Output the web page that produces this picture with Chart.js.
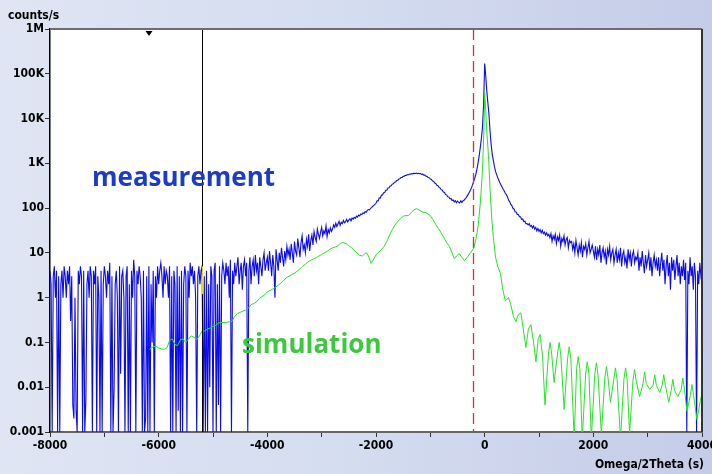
<!DOCTYPE html>
<html>
<head>
<meta charset="utf-8">
<title>Omega/2Theta scan</title>
<script src="https://cdn.jsdelivr.net/npm/chart.js@4"></script>
<style>
  html, body { margin: 0; padding: 0; }
  body {
    width: 712px; height: 474px; overflow: hidden;
    background: linear-gradient(to right, #dfe5f3 0%, #d4dcf0 50%, #c5cce8 100%);
  }
  canvas { display: block; }
</style>
</head>
<body>
<canvas id="scanChart" width="712" height="474"></canvas>
<script>

// measured counts/s, one reading every 20 s from -8000 s
// (zero counts are stored as 0.001 so they sit on the bottom of the log axis)
var measStart = -8000;
var measStep = 20;
var measCounts = [
  4, 2, 0.001, 3, 5, 1, 4, 0.001, 3, 0.001, 2, 4, 1, 5, 3, 1, 4, 2, 5, 0.3,
  3, 0.004, 0.002, 1, 0.003, 0.001, 4, 2, 5, 3, 0.001, 4, 0.001, 0.005, 2, 4, 1, 5, 3, 0.001,
  4, 2, 5, 0.001, 3, 1, 0.001, 4, 0.001, 2, 5, 3, 1, 4, 2, 6, 0.001, 3, 0.001, 0.01,
  2, 4, 1, 0.001, 5, 0.02, 3, 4, 1, 0.001, 3, 5, 0.001, 2, 0.001, 4, 1, 7, 3, 0.001,
  4, 2, 5, 3, 1, 0.001, 4, 0.001, 0.002, 3, 0.001, 5, 0.001, 2, 0.1, 4, 0.001, 3, 1, 5,
  2, 4, 6, 3, 1, 5, 2, 4, 3, 1, 5, 0.001, 3, 0.001, 4, 2, 0.001, 5, 0.003, 3,
  0.001, 4, 0.001, 2, 5, 3, 0.001, 4, 1, 6, 3, 5, 2, 4, 1, 0.001, 3, 5, 2, 4,
  5, 0.001, 3, 0.001, 4, 0.001, 2, 0.01, 5, 3, 0.001, 4, 6, 0.001, 2, 0.004, 5, 0.001, 3, 6,
  4, 2, 6, 3, 5, 1, 7, 0.001, 4, 2, 6, 3, 5, 8, 2, 4, 6, 1.5, 5, 7,
  3, 6, 0.001, 4, 8, 2, 5, 7, 3, 9, 4, 6, 2, 8, 5, 3, 7, 10, 4, 6,
  8, 4, 11, 6, 3, 9, 5, 1, 12, 7, 4, 10, 6, 13, 8, 5, 11, 7, 14, 9,
  12, 7, 16, 10, 6, 18, 11, 9, 21, 13, 8, 17, 24, 12, 15, 10, 20, 14, 26, 11,
  19, 25, 15, 30, 22, 18, 34, 26, 21, 29, 37, 24, 31, 27, 40, 23, 33, 28, 36, 30,
  34, 42, 37, 46, 39, 44, 51, 41, 48, 45, 53, 47, 50, 56, 49, 54, 58, 52, 60, 57,
  62, 59, 66, 63, 70, 67, 74, 72, 78, 76, 84, 81, 89, 93, 91, 99, 104, 110, 115, 121,
  128, 146, 145, 170, 168, 195, 196, 220, 224, 250, 252, 280, 284, 312, 316, 345, 348, 378, 384, 412,
  420, 446, 455, 482, 485, 512, 514, 540, 538, 562, 558, 578, 574, 592, 584, 602, 588, 606, 590, 600,
  584, 592, 566, 572, 544, 546, 514, 512, 482, 476, 444, 436, 404, 398, 364, 356, 324, 318, 290, 282,
  258, 252, 228, 224, 202, 198, 180, 178, 162, 164, 148, 152, 138, 146, 132, 144, 136, 130, 146, 134,
  145, 150, 160, 172, 188, 205, 228, 255, 290, 340, 400, 480, 580, 760, 1050, 1500, 2300, 3600, 6500, 20000,
  170000, 90000, 40000, 22000, 12000, 5000, 2600, 1600, 1150, 850, 660, 560, 480, 420, 370, 330, 295, 265, 240, 215,
  200, 178, 152, 140, 121, 114, 99, 96, 83, 82, 72, 72, 64, 64, 56, 57, 50, 51, 45, 45,
  42, 45, 39, 41, 36, 40, 34, 37, 31, 35, 30, 33, 28, 32, 27, 29, 25, 28, 24, 26,
  22, 27, 18, 24, 20, 26, 16, 23, 19, 25, 14, 21, 18, 24, 15, 20, 22, 13, 19, 17,
  18, 12, 16, 10, 19, 13, 9, 15, 11, 17, 8, 14, 12, 16, 9, 13, 18, 10, 12, 15,
  11, 8, 14, 7, 12, 9, 15, 6, 10, 13, 8, 11, 5.5, 12, 9, 14, 7, 10, 12, 6,
  9, 12, 6, 10, 7, 13, 5, 9, 11, 6, 8, 4.5, 12, 7, 10, 5, 9, 11, 6, 8,
  7, 10, 4, 8, 5, 11, 6, 3.5, 9, 5, 7, 10, 4, 8, 3, 6, 9, 5, 7, 4,
  8, 3, 6, 10, 4, 7, 2, 5, 9, 3, 6, 1.5, 8, 4, 7, 2.5, 5, 9, 3, 6,
  2, 5, 3, 7, 2.5, 6, 0.001, 4, 2, 8, 3, 5, 1.5, 6, 3, 0.001, 4, 2, 6, 3,
  4
];

// simulated curve
var simAngle = [
  -6170, -6100, -6050, -6000, -5950, -5900, -5850, -5800, -5750, -5700,
  -5650, -5600, -5550, -5500, -5450, -5400, -5350, -5300, -5250, -5200,
  -5150, -5100, -5050, -5000, -4950, -4900, -4850, -4800, -4750, -4700,
  -4650, -4600, -4550, -4500, -4450, -4400, -4350, -4300, -4250, -4200,
  -4150, -4100, -4050, -4000, -3950, -3900, -3850, -3800, -3750, -3700,
  -3650, -3600, -3550, -3500, -3450, -3400, -3350, -3300, -3250, -3200,
  -3150, -3100, -3050, -3000, -2950, -2900, -2850, -2800, -2750, -2700,
  -2650, -2600, -2550, -2500, -2450, -2400, -2350, -2300, -2250, -2200,
  -2170, -2130, -2090, -2050, -2000, -1950, -1900, -1850, -1800, -1750,
  -1700, -1650, -1600, -1550, -1500, -1450, -1400, -1350, -1300, -1250,
  -1200, -1150, -1100, -1050, -1000, -950, -900, -850, -800, -750,
  -700, -650, -600, -560, -520, -470, -420, -370, -320, -260,
  -200, -160, -120, -80, -40, -15, 0, 20, 40, 70,
  100, 130, 160, 200, 240, 290, 330, 380, 440, 480,
  530, 574, 620, 667, 710, 759, 805, 852, 900, 944,
  985, 1019, 1065, 1111, 1174, 1204, 1234, 1278, 1340, 1370,
  1400, 1463, 1526, 1556, 1586, 1648, 1692, 1722, 1752, 1796,
  1859, 1889, 1919, 1963, 2026, 2056, 2086, 2148, 2211, 2241,
  2271, 2315, 2377, 2407, 2437, 2500, 2563, 2593, 2623, 2667,
  2729, 2759, 2789, 2852, 2914, 2944, 2974, 3037, 3100, 3130,
  3160, 3222, 3266, 3296, 3326, 3389, 3433, 3463, 3493, 3556,
  3618, 3648, 3678, 3722, 3785, 3815, 3845, 3907, 3970, 4000
];
var simCounts = [
  0.07, 0.08, 0.082, 0.075, 0.072, 0.07, 0.075, 0.11, 0.12, 0.09,
  0.085, 0.115, 0.12, 0.1, 0.12, 0.14, 0.13, 0.115, 0.14, 0.18,
  0.18, 0.2, 0.21, 0.23, 0.24, 0.27, 0.28, 0.28, 0.28, 0.29,
  0.3, 0.38, 0.44, 0.47, 0.5, 0.53, 0.58, 0.7, 0.74, 0.8,
  0.95, 1.05, 1.15, 1.35, 1.45, 1.55, 1.7, 1.9, 2.1, 2.4,
  2.8, 3.0, 3.3, 3.5, 3.9, 4.4, 5.0, 5.6, 6.3, 6.9,
  7.3, 7.8, 8.5, 9.2, 10, 10.8, 12, 13, 13.5, 14.5,
  16.5, 17, 16, 14.5, 13, 11.5, 10, 8.8, 8.5, 9.8,
  10, 8, 5.8, 7, 9, 10.5, 11.8, 14, 18, 25,
  33, 42, 50, 58, 66, 68, 68, 80, 92, 97,
  90, 82, 80, 75, 68, 55, 43, 35, 28, 22,
  17, 14, 10, 7.5, 8.5, 9.6, 8, 6.7, 8, 10,
  13, 20, 40, 130, 700, 5000, 38000, 15000, 5000, 1500,
  250, 60, 22, 8, 5, 3.5, 1.6, 0.85, 1.0, 0.7,
  0.38, 0.29, 0.42, 0.46, 0.2, 0.077, 0.2, 0.25, 0.1, 0.037,
  0.12, 0.15, 0.05, 0.004, 0.055, 0.1, 0.055, 0.0127, 0.055, 0.1,
  0.055, 0.0032, 0.044, 0.08, 0.044, 0.0007, 0.026, 0.048, 0.026, 0.0007,
  0.02, 0.037, 0.02, 0.0007, 0.019, 0.035, 0.019, 0.0009, 0.016, 0.029,
  0.016, 0.0046, 0.015, 0.027, 0.015, 0.0007, 0.015, 0.027, 0.015, 0.0009,
  0.014, 0.025, 0.014, 0.0062, 0.012, 0.022, 0.012, 0.009, 0.011, 0.019,
  0.011, 0.0076, 0.011, 0.019, 0.011, 0.0046, 0.0085, 0.015, 0.0085, 0.0062,
  0.009, 0.016, 0.009, 0.0029, 0.0065, 0.0115, 0.0065, 0.0019, 0.005, 0.0075
];

// axis labels
var yTickValues = [0.001, 0.01, 0.1, 1, 10, 100, 1000, 10000, 100000, 1000000];
var yTickLabels = ['0.001', '0.01', '0.1', '1', '10', '100', '1K', '10K', '100K', '1M'];

// cursors
var cursorAngle = -5200;
var markerAngle = -6178;
var peakRefAngle = -215;

var tickFont = { family: "'Liberation Sans Narrow', 'DejaVu Sans Condensed', sans-serif", size: 12, weight: 'bold' };

var measPoints = measCounts.map(function(v, i) {
  return { x: measStart + i * measStep, y: v };
});
var simPoints = simCounts.map(function(v, i) {
  return { x: simAngle[i], y: v };
});

// white plot area, cursors, frame and the two annotations
var overlay = {
  id: 'overlay',
  beforeDraw: function(chart) {
    var a = chart.chartArea, ctx = chart.ctx;
    ctx.save();
    ctx.fillStyle = '#ffffff';
    ctx.fillRect(a.left, a.top, a.right - a.left, a.bottom - a.top);
    ctx.restore();
  },
  afterDatasetsDraw: function(chart) {
    var ctx = chart.ctx, a = chart.chartArea;
    var xs = chart.scales.x, ys = chart.scales.y;
    ctx.save();

    // red dashed line at the substrate peak
    var px = Math.round(xs.getPixelForValue(peakRefAngle)) + 0.5;
    ctx.strokeStyle = '#cc3333';
    ctx.lineWidth = 1.3;
    ctx.setLineDash([11, 5]);
    ctx.beginPath();
    ctx.moveTo(px, a.top);
    ctx.lineTo(px, a.bottom);
    ctx.stroke();
    ctx.setLineDash([]);

    // black cursor
    var cx = Math.round(xs.getPixelForValue(cursorAngle)) + 0.5;
    ctx.strokeStyle = '#000000';
    ctx.lineWidth = 1;
    ctx.beginPath();
    ctx.moveTo(cx, a.top);
    ctx.lineTo(cx, a.bottom);
    ctx.stroke();
    ctx.strokeStyle = '#e8e000';
    ctx.beginPath();
    ctx.moveTo(cx, ys.getPixelForValue(5));
    ctx.lineTo(cx, ys.getPixelForValue(1.2));
    ctx.stroke();

    // marker triangle on the top edge
    var mx = xs.getPixelForValue(markerAngle);
    ctx.fillStyle = '#000000';
    ctx.beginPath();
    ctx.moveTo(mx - 3.5, a.top + 2);
    ctx.lineTo(mx + 3.5, a.top + 2);
    ctx.lineTo(mx, a.top + 7);
    ctx.closePath();
    ctx.fill();
    ctx.restore();
  },
  afterDraw: function(chart) {
    var ctx = chart.ctx, a = chart.chartArea;
    ctx.save();

    // top and right frame
    ctx.strokeStyle = '#6e6e6e';
    ctx.lineWidth = 2;
    ctx.beginPath();
    ctx.moveTo(a.left, a.top);
    ctx.lineTo(a.right, a.top);
    ctx.stroke();
    ctx.strokeStyle = '#333333';
    ctx.beginPath();
    ctx.moveTo(a.right, a.top);
    ctx.lineTo(a.right, a.bottom);
    ctx.stroke();

    // axis titles
    ctx.fillStyle = '#000000';
    ctx.font = "bold 12px 'Liberation Sans Narrow', 'DejaVu Sans Condensed', sans-serif";
    ctx.textBaseline = 'alphabetic';
    ctx.textAlign = 'left';
    ctx.fillText('counts/s', 8, 19);
    ctx.textAlign = 'right';
    ctx.fillText('Omega/2Theta (s)', 704, 468);

    // curve names
    ctx.textAlign = 'left';
    ctx.font = "bold 26px 'Open Sans', 'DejaVu Sans', sans-serif";
    ctx.fillStyle = '#1c3cc6';
    ctx.fillText('measurement', 92, 186);
    ctx.fillStyle = '#3ec83e';
    ctx.fillText('simulation', 242, 353);
    ctx.restore();
  }
};

var ctx = document.getElementById('scanChart');

var scanChart = new Chart(ctx, {
  type: 'line',
  data: {
    datasets: [{
      label: 'simulation',
      data: simPoints,
      borderColor: '#22e622',
      borderWidth: 1,
      pointRadius: 0,
      tension: 0
    }, {
      label: 'measurement',
      data: measPoints,
      borderColor: '#0a0af0',
      borderWidth: 1.1,
      pointRadius: 0,
      tension: 0
    }]
  },
  options: {
    responsive: false,
    animation: false,
    devicePixelRatio: 1,
    layout: { padding: { top: 29, right: 10, left: 0, bottom: 0 } },
    plugins: {
      legend: { display: false },
      tooltip: { enabled: false }
    },
    scales: {
      x: {
        type: 'linear',
        min: -8000,
        max: 4000,
        afterFit: function(s) {
          s.height = 42;
          s.paddingLeft = 0;
          s.paddingRight = 0;
        },
        border: { color: '#666666', width: 2 },
        grid: { drawOnChartArea: false, drawTicks: true, tickLength: 5, color: '#333333' },
        ticks: {
          stepSize: 1000,
          autoSkip: false,
          maxRotation: 0,
          padding: 2,
          color: '#000000',
          font: tickFont,
          callback: function(v) { return v % 2000 === 0 ? String(v) : ''; }
        }
      },
      y: {
        type: 'logarithmic',
        min: 0.001,
        max: 1000000,
        afterFit: function(s) { s.width = 50; },
        afterBuildTicks: function(s) {
          s.ticks = yTickValues.map(function(v) { return { value: v }; });
        },
        border: { color: '#000000', width: 1.5 },
        grid: { drawOnChartArea: false, drawTicks: true, tickLength: 5, color: '#333333' },
        ticks: {
          padding: 1,
          color: '#000000',
          font: tickFont,
          callback: function(v, i) { return yTickLabels[i]; }
        }
      }
    }
  },
  plugins: [overlay]
});
</script>
</body>
</html>
